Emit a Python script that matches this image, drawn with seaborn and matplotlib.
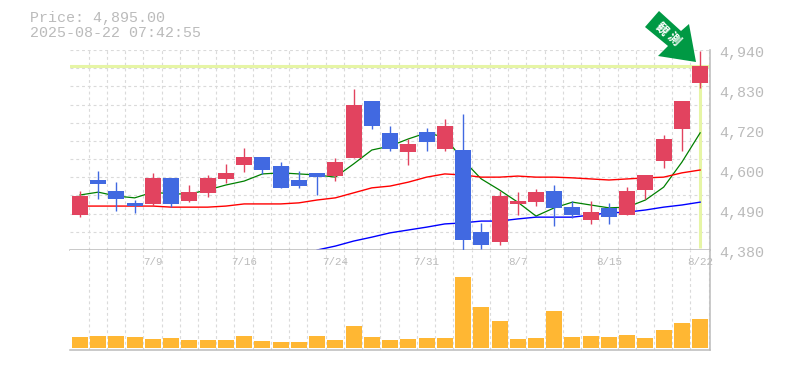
import matplotlib
matplotlib.use('Agg')
import matplotlib.pyplot as plt
import seaborn as sns
import pandas as pd
import numpy as np
from matplotlib.patches import Polygon

# Daily prices
opens = [4478, 4576, 4545, 4512, 4509, 4582, 4517, 4540, 4579, 4618, 4640, 4615,
         4576, 4596, 4587, 4638, 4797, 4708, 4654, 4710, 4663, 4660, 4430, 4402,
         4509, 4514, 4545, 4500, 4464, 4498, 4478, 4548, 4629, 4719, 4848]
closes = [4531, 4565, 4523, 4502, 4582, 4509, 4542, 4582, 4596, 4640, 4604, 4554,
          4559, 4584, 4626, 4786, 4727, 4663, 4677, 4682, 4727, 4408, 4394, 4531,
          4517, 4542, 4498, 4478, 4486, 4472, 4545, 4590, 4691, 4797, 4895]
highs = [4545, 4601, 4570, 4520, 4596, 4582, 4562, 4590, 4621, 4666, 4640, 4626,
         4601, 4596, 4638, 4831, 4797, 4727, 4691, 4722, 4747, 4761, 4456, 4545,
         4542, 4551, 4562, 4517, 4517, 4512, 4556, 4590, 4702, 4797, 4937]
lows = [4472, 4523, 4489, 4484, 4503, 4500, 4514, 4528, 4568, 4598, 4593, 4554,
        4554, 4534, 4573, 4638, 4719, 4657, 4618, 4657, 4657, 4380, 4383, 4394,
        4478, 4503, 4447, 4470, 4453, 4453, 4478, 4523, 4610, 4657, 4834]
volumes = [11, 12, 12, 11, 9, 10, 8, 8, 8, 12, 7, 6, 6, 12, 8, 22, 11, 8,
           9, 10, 10, 71, 41, 27, 9, 10, 37, 11, 12, 11, 13, 10, 18, 25, 29]

# Moving averages
ma_green = [4534, 4542, 4531, 4526, 4542, 4537, 4537, 4548, 4562, 4573, 4593, 4596,
            4593, 4590, 4584, 4621, 4660, 4671, 4691, 4708, 4696, 4632, 4579, 4548,
            4514, 4475, 4498, 4514, 4506, 4498, 4500, 4520, 4556, 4626, 4708]
ma_red = [4503, 4503, 4503, 4503, 4503, 4500, 4500, 4500, 4503, 4509, 4509, 4509,
          4512, 4520, 4526, 4540, 4554, 4559, 4570, 4584, 4593, 4590, 4584, 4584,
          4587, 4584, 4584, 4582, 4579, 4576, 4579, 4582, 4584, 4596, 4604]
ma_blue = [4380, 4391, 4405, 4416, 4428, 4436, 4444, 4453, 4456, 4461, 4461, 4467,
           4472, 4472, 4472, 4478, 4484, 4486, 4492, 4500, 4506, 4514]
blue_start = 13

price_ticks = [4940, 4828, 4716, 4604, 4492, 4380]
price_labels = ['4,940', '4,830', '4,720', '4,600', '4,490', '4,380']
date_pos = [4, 9, 14, 19, 24, 29, 34]
date_labels = ['7/9', '7/16', '7/24', '7/31', '8/7', '8/15', '8/22']

UP = '#E2435F'
DOWN = '#4169E1'
GREY = '#BBBBBB'
GRID = '#DADADA'
MONO = 'Liberation Mono'

df = pd.DataFrame({'day': range(len(opens)), 'open': opens, 'close': closes,
                   'high': highs, 'low': lows, 'volume': volumes,
                   'green': ma_green, 'red': ma_red})
df['up'] = df['close'] > df['open']
df['base'] = df[['open', 'close']].min(axis=1)
df['body'] = (df['close'] - df['open']).abs()

fig = plt.figure(figsize=(7.85, 3.7), dpi=100)
ax = fig.add_axes([70 / 785, 120 / 370, 640 / 785, 200 / 370])
ax_vol = fig.add_axes([70 / 785, 20 / 370, 640 / 785, 100 / 370])

xlim = (-0.548, 34.54)
grid_x = np.arange(0, 35) + 0.47

# last price marker, behind everything
ax.axhline(closes[-1], color='#E6F5A5', lw=2.2, zorder=1)
ax.vlines(34, 4385, closes[-1], color='#E6F5A5', lw=2.2, zorder=1)

# moving averages
sns.lineplot(x='day', y='green', data=df, color='#008000', lw=0.9, ax=ax, zorder=2)
sns.lineplot(x='day', y='red', data=df, color='#FF0000', lw=1.0, ax=ax, zorder=2)
sns.lineplot(x=range(blue_start, len(opens)), y=ma_blue, color='#0000FF', lw=1.0, ax=ax, zorder=2)

# candles
for is_up, color in [(True, UP), (False, DOWN)]:
    sub = df[df['up'] == is_up]
    ax.vlines(sub['day'], sub['low'], sub['high'], color=color, lw=1.0, zorder=3)
    sns.barplot(x='day', y='body', data=sub, bottom=sub['base'].values, native_scale=True,
                width=0.877, color=color, saturation=1, linewidth=0, ax=ax, zorder=4)

ax.set_xlim(*xlim)
ax.set_ylim(4380, 4940)
ax.set_xticks(grid_x)
ax.set_yticks(np.linspace(4380, 4940, 12))
ax.set_xlabel('')
ax.set_ylabel('')
ax.tick_params(length=0, labelbottom=False, labelleft=False)
ax.grid(True, color=GRID, lw=0.8, ls=(0, (2.6, 2.6)))
ax.set_axisbelow(True)

for tick, label in zip(price_ticks, price_labels):
    ax.annotate(label, xy=(1, tick), xycoords=ax.get_yaxis_transform(), xytext=(6.5, -2.2),
                textcoords='offset points', va='center', ha='left', color=GREY,
                family=MONO, fontsize=10.8, annotation_clip=False)

# volume
sns.barplot(x='day', y='volume', data=df, native_scale=True, width=0.877,
            color='#FFB733', saturation=1, linewidth=0, ax=ax_vol, zorder=3)
ax_vol.set_xlim(*xlim)
ax_vol.set_ylim(-2, 98)
ax_vol.set_xticks(grid_x)
ax_vol.set_yticks([])
ax_vol.set_xlabel('')
ax_vol.set_ylabel('')
ax_vol.tick_params(length=0, labelbottom=False)
ax_vol.grid(True, axis='x', color=GRID, lw=0.8, ls=(0, (2.6, 2.6)))
ax_vol.set_axisbelow(True)

for pos, label in zip(date_pos, date_labels):
    ax_vol.text(pos, 0.88, label, transform=ax_vol.get_xaxis_transform(), ha='center',
                va='center', color=GREY, family=MONO, fontsize=7.8, zorder=5)

for a in (ax, ax_vol):
    for side in ('left', 'top'):
        a.spines[side].set_visible(False)
    for side in ('right', 'bottom'):
        a.spines[side].set_color(GREY)
        a.spines[side].set_linewidth(1.1)

# header text
fig.text(30 / 785, 1 - 18 / 370, 'Price: 4,895.00', color=GREY, family=MONO, fontsize=10.8, va='center')
fig.text(30 / 785, 1 - 33 / 370, '2025-08-22 07:42:55', color=GREY, family=MONO, fontsize=10.8, va='center')

# green arrow badge
arrow = [(645, 27), (659, 11), (681, 31), (689, 24), (696, 62), (658, 56), (668, 46)]
fig.add_artist(Polygon([(x / 785, 1 - y / 370) for x, y in arrow], closed=True,
                       transform=fig.transFigure, facecolor='#009944', edgecolor='none'))
for (gx, gy), glyph in zip([(661.5, 29), (673, 39.5)], '観測'):
    fig.text(gx / 785, 1 - gy / 370, glyph, color='white', fontsize=9, fontweight='bold', rotation=-45,
             rotation_mode='anchor', ha='center', va='center', family=['Noto Sans CJK JP', 'DejaVu Sans'])

fig.savefig('out.png', dpi=100)
